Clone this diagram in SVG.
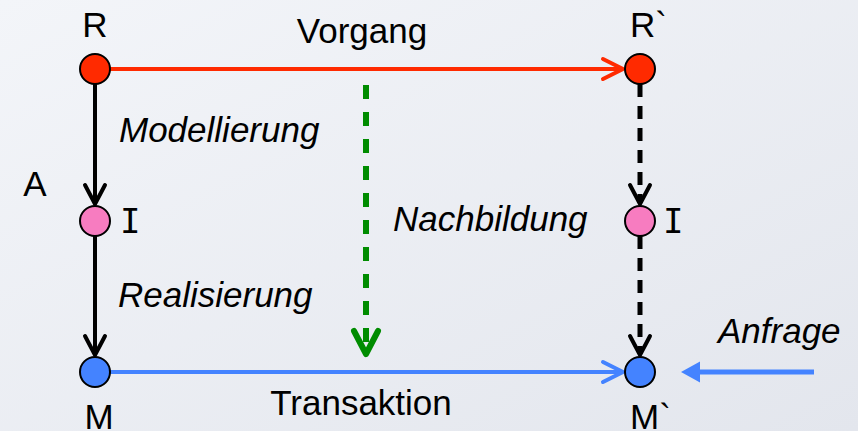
<svg xmlns="http://www.w3.org/2000/svg" width="858" height="431" viewBox="0 0 858 431">
<defs>
<linearGradient id="bg" x1="0" y1="0" x2="1" y2="1">
<stop offset="0" stop-color="#f3f5f9"/>
<stop offset="1" stop-color="#e3e6ed"/>
</linearGradient>
<style>
.t{font-family:"Liberation Sans",Arial,sans-serif;font-size:35px;fill:#000}
.it{font-style:italic}
.i{font-family:"DejaVu Sans Mono",monospace;font-size:34px;fill:#000}
.node{stroke:#000;stroke-width:2}
.red{fill:#ff2a00}
.pink{fill:#f77cc0}
.blue{fill:#4483ff}
.ln{fill:none;stroke-linecap:butt}
.head{fill:none;stroke-linecap:round;stroke-linejoin:round}
</style>
</defs>
<rect width="858" height="431" fill="url(#bg)"/>
<g id="connectors">
<!-- Vorgang red -->
<line class="ln" x1="110" y1="69" x2="622" y2="69" stroke="#ff2a00" stroke-width="4"/>
<polyline class="head" points="603,59 623,69 603,79" stroke="#ff2a00" stroke-width="4"/>
<!-- Transaktion blue -->
<line class="ln" x1="110" y1="372" x2="622" y2="372" stroke="#4483ff" stroke-width="4"/>
<polyline class="head" points="603,362 623,372 603,382" stroke="#4483ff" stroke-width="4"/>
<!-- Modellierung -->
<line class="ln" x1="95" y1="84" x2="95" y2="203" stroke="#000" stroke-width="4"/>
<polyline class="head" points="85,185 95,204 105,185" stroke="#000" stroke-width="4"/>
<!-- Realisierung -->
<line class="ln" x1="95" y1="236" x2="95" y2="354" stroke="#000" stroke-width="4"/>
<polyline class="head" points="85,336 95,355 105,336" stroke="#000" stroke-width="4"/>
<!-- right dashed -->
<line class="ln" x1="640" y1="84" x2="640" y2="203" stroke="#000" stroke-width="5" stroke-dasharray="13 9"/>
<polyline class="head" points="630,185 640,204 650,185" stroke="#000" stroke-width="4"/>
<line class="ln" x1="640" y1="236" x2="640" y2="354" stroke="#000" stroke-width="5" stroke-dasharray="13 9"/>
<polyline class="head" points="630,336 640,355 650,336" stroke="#000" stroke-width="4"/>
<!-- Nachbildung green -->
<line class="ln" x1="366" y1="85" x2="366" y2="350" stroke="#008c00" stroke-width="6" stroke-dasharray="14 13"/>
<polyline class="head" points="354,331 366,354 378,331" stroke="#008c00" stroke-width="6"/>
<!-- Anfrage -->
<line class="ln" x1="814" y1="372" x2="698" y2="372" stroke="#4483ff" stroke-width="5"/>
<polygon points="681,372 700,361.5 700,382.5" fill="#4483ff"/>
</g>
<g id="node-R">
<circle class="node red" cx="95" cy="69" r="15"/>
<text class="t" x="95" y="37" text-anchor="middle">R</text>
</g>
<g id="node-R2">
<circle class="node red" cx="640" cy="69" r="15"/>
<text class="t" x="630" y="37">R`</text>
</g>
<g id="node-I">
<circle class="node pink" cx="95" cy="221" r="15"/>
<text class="i" x="120" y="233">I</text>
</g>
<g id="node-I2">
<circle class="node pink" cx="640" cy="221" r="15"/>
<text class="i" x="663" y="233">I</text>
</g>
<g id="node-M">
<circle class="node blue" cx="95" cy="372" r="15"/>
<text class="t" x="99" y="429" text-anchor="middle">M</text>
</g>
<g id="node-M2">
<circle class="node blue" cx="640" cy="372" r="15"/>
<text class="t" x="630" y="429">M`</text>
</g>
<g id="labels">
<text class="t" x="362" y="43" text-anchor="middle">Vorgang</text>
<text class="t" x="361" y="415" text-anchor="middle">Transaktion</text>
<text class="t it" x="119" y="142">Modellierung</text>
<text class="t it" x="393" y="231">Nachbildung</text>
<text class="t it" x="118" y="307">Realisierung</text>
<text class="t it" x="718" y="343">Anfrage</text>
<text class="t" x="35" y="196" text-anchor="middle">A</text>
</g>
</svg>
